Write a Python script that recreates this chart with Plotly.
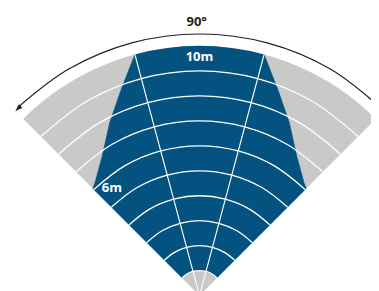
import plotly.graph_objects as go

# ---- data ----
ring_radii = [1, 2, 3, 4, 5, 6, 7, 8, 9]               # white range rings (m)
spoke_angles = [75, 105]                                 # white radial lines (deg)
arc_theta = [45, 60, 75, 90, 105, 120, 135]              # angles used to trace arcs
max_range = 10
core_radius = 1
center_width = 30
# blue detection boundary: (r, theta)
left_r = [1, 6.05, 6.15, 6.8, 7.8, 8.8, 10, 1, 1]
left_t = [135, 135, 133, 125, 117.5, 111, 105, 105, 120]
right_r = [1, 6.05, 6.15, 6.8, 7.8, 8.8, 10, 1, 1]
right_t = [45, 45, 47, 55, 62.5, 69, 75, 75, 60]
arrow_r = 10.48
arrow_theta = [44, 60, 75, 90, 105, 120, 134]
labels = ["10m", "6m"]
label_r = [9.52, 5.53]
label_t = [90, 129.4]
title_text = "90°"

BLUE = "#04527f"
GRAY = "#c8c9c8"
DARK = "#231f20"
FONT = "Open Sans"

fig = go.Figure()
# gray full sector
fig.add_trace(go.Barpolar(r=[max_range], theta=[90], width=[90], base=[0],
                          marker=dict(color=GRAY, line=dict(width=0)), hoverinfo="skip"))
# blue central wedge
fig.add_trace(go.Barpolar(r=[max_range], theta=[90], width=[center_width], base=[0],
                          marker=dict(color=BLUE, line=dict(width=0)), hoverinfo="skip"))
# gray core
fig.add_trace(go.Barpolar(r=[core_radius], theta=[90], width=[90], base=[0],
                          marker=dict(color=GRAY, line=dict(width=0)), hoverinfo="skip"))
# blue sides
for rr, tt in [(left_r, left_t), (right_r, right_t)]:
    fig.add_trace(go.Scatterpolar(r=rr, theta=tt, mode="lines", fill="toself",
                                  fillcolor=BLUE, line=dict(color=BLUE, width=0.6),
                                  hoverinfo="skip"))
# white range rings
for rad in ring_radii:
    fig.add_trace(go.Scatterpolar(r=[rad] * len(arc_theta), theta=arc_theta, mode="lines",
                                  line=dict(color="white", width=1.3, shape="spline"),
                                  hoverinfo="skip"))
# white spokes
for a in spoke_angles:
    fig.add_trace(go.Scatterpolar(r=[0, max_range], theta=[a, a], mode="lines",
                                  line=dict(color="white", width=1.1), hoverinfo="skip"))
# arrow arc
fig.add_trace(go.Scatterpolar(r=[arrow_r] * len(arrow_theta), theta=arrow_theta, mode="lines",
                              line=dict(color=DARK, width=1.2, shape="spline"),
                              cliponaxis=False, hoverinfo="skip"))
fig.add_trace(go.Scatterpolar(r=[arrow_r - 0.04], theta=[135], mode="markers",
                              marker=dict(symbol="arrow", size=8, color=DARK, angle=225,
                                          line=dict(width=0)),
                              cliponaxis=False, hoverinfo="skip"))
# labels
fig.add_trace(go.Scatterpolar(r=label_r, theta=label_t, mode="text", text=labels,
                              textfont=dict(family=FONT, size=13, color="white", weight="bold"),
                              cliponaxis=False, hoverinfo="skip"))
fig.add_trace(go.Scatterpolar(r=[10.68], theta=[90.6], mode="text", text=[title_text],
                              textposition="top center",
                              textfont=dict(family=FONT, size=13, color=DARK, weight="bold"),
                              cliponaxis=False, hoverinfo="skip"))

# the page body adds an 8px offset; geometry below is in figure pixels
W, H = 384, 291
R_MAX = 10.85
scale = 24.96                      # px per metre
apex_y = 287.6                     # apex, px from figure top
bbox_h = R_MAX * scale
bbox_w = 2 * 0.70711 * bbox_h
fig.update_layout(
    width=W, height=H, margin=dict(l=0, r=0, t=0, b=0, pad=0),
    paper_bgcolor="white", plot_bgcolor="white", showlegend=False,
    polar=dict(
        sector=[45, 135], hole=0, bgcolor="rgba(0,0,0,0)",
        domain=dict(x=[0, bbox_w / W], y=[(H - apex_y) / H, (H - apex_y + bbox_h) / H]),
        radialaxis=dict(range=[0, R_MAX], visible=False, showgrid=False, showline=False),
        angularaxis=dict(visible=False, showgrid=False, showline=False, rotation=0,
                         direction="counterclockwise"),
    ),
)
fig.write_html("out.html")
